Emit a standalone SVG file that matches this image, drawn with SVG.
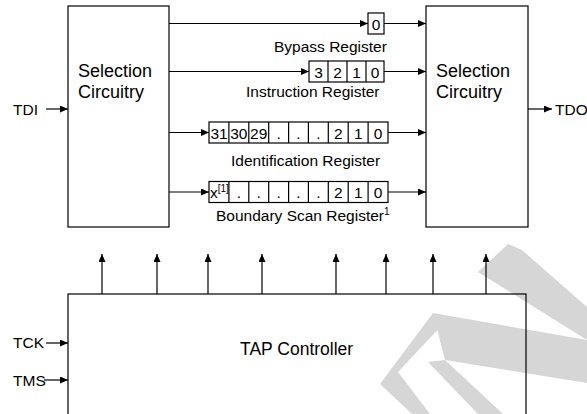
<svg xmlns="http://www.w3.org/2000/svg" width="587" height="414" viewBox="0 0 587 414">
<style>
  text { font-family: "Liberation Sans", Arial, sans-serif; fill: #000; }
  .big { font-size: 18px; }
  .lbl { font-size: 15.5px; }
  .cell { font-size: 15.5px; text-anchor: middle; }
  .box { fill: none; stroke: #000; stroke-width: 1.2; }
  .ln { fill: none; stroke: #000; stroke-width: 1.2; }
  .wm { fill: #d6d6d6; stroke: none; }
</style>
<defs>
  <marker id="ah" markerUnits="userSpaceOnUse" markerWidth="8" markerHeight="7" refX="8" refY="3.5" orient="auto">
    <path d="M0,0 L8,3.5 L0,7 Z" fill="#000"/>
  </marker>
</defs>
<rect width="587" height="414" fill="#fff"/>
<g id="watermark">
  <polygon class="wm" points="478,272 508,244 522,250 587,307 587,340"/>
  <polygon class="wm" points="433,313 587,340 587,383 445,360"/>
  <polygon class="wm" points="433,313 445,322 398,372 430,414 412,414 380,384"/>
  <polygon class="wm" points="428,362 445,360 503,414 478,414"/>
</g>
<g id="connectors">
  <line class="ln" x1="46" y1="109" x2="68" y2="109" marker-end="url(#ah)"/>
  <line class="ln" x1="169" y1="23.5" x2="368" y2="23.5" marker-end="url(#ah)"/>
  <line class="ln" x1="169" y1="71.5" x2="309" y2="71.5" marker-end="url(#ah)"/>
  <line class="ln" x1="169" y1="132.5" x2="209" y2="132.5" marker-end="url(#ah)"/>
  <line class="ln" x1="169" y1="192" x2="209" y2="192" marker-end="url(#ah)"/>
  <line class="ln" x1="384" y1="23.5" x2="426" y2="23.5" marker-end="url(#ah)"/>
  <line class="ln" x1="384" y1="71.5" x2="426" y2="71.5" marker-end="url(#ah)"/>
  <line class="ln" x1="388" y1="132.5" x2="426" y2="132.5" marker-end="url(#ah)"/>
  <line class="ln" x1="388" y1="192" x2="426" y2="192" marker-end="url(#ah)"/>
  <line class="ln" x1="528" y1="109" x2="552" y2="109" marker-end="url(#ah)"/>
  <line class="ln" x1="46" y1="343" x2="68" y2="343" marker-end="url(#ah)"/>
  <line class="ln" x1="44" y1="380" x2="68" y2="380" marker-end="url(#ah)"/>
  <line class="ln" x1="102" y1="294" x2="102" y2="254" marker-end="url(#ah)"/>
  <line class="ln" x1="157" y1="294" x2="157" y2="254" marker-end="url(#ah)"/>
  <line class="ln" x1="208" y1="294" x2="208" y2="254" marker-end="url(#ah)"/>
  <line class="ln" x1="262" y1="294" x2="262" y2="254" marker-end="url(#ah)"/>
  <line class="ln" x1="336" y1="294" x2="336" y2="254" marker-end="url(#ah)"/>
  <line class="ln" x1="386" y1="294" x2="386" y2="254" marker-end="url(#ah)"/>
  <line class="ln" x1="433" y1="294" x2="433" y2="254" marker-end="url(#ah)"/>
  <line class="ln" x1="486" y1="294" x2="486" y2="254" marker-end="url(#ah)"/>
</g>
<g id="signals">
  <text class="lbl" x="13" y="114.5">TDI</text>
  <text class="lbl" x="555" y="114.5">TDO</text>
  <text class="lbl" x="13" y="348">TCK</text>
  <text class="lbl" x="13" y="385.5">TMS</text>
</g>
<g id="sel-left">
  <rect class="box" x="68" y="6" width="101" height="221"/>
  <text class="big" x="78" y="77">Selection</text>
  <text class="big" x="78" y="98">Circuitry</text>
</g>
<g id="sel-right">
  <rect class="box" x="426" y="6" width="102" height="221"/>
  <text class="big" x="436" y="77">Selection</text>
  <text class="big" x="436" y="98">Circuitry</text>
</g>
<g id="tap">
  <rect class="box" x="68" y="294" width="458" height="130"/>
  <text class="big" x="240" y="355" style="font-size:17.5px">TAP Controller</text>
</g>
<g id="bypass">
  <rect class="box" x="368" y="13" width="16" height="21"/>
  <text class="cell" x="376" y="29.5">0</text>
  <text class="lbl" x="274" y="52">Bypass Register</text>
</g>
<g id="instruction">
  <rect class="box" x="309" y="61" width="75" height="21"/>
  <path class="ln" d="M328,61V82M347,61V82M366,61V82"/>
  <text class="cell" x="318.5" y="77.5">3</text>
  <text class="cell" x="337.5" y="77.5">2</text>
  <text class="cell" x="356.5" y="77.5">1</text>
  <text class="cell" x="375" y="77.5">0</text>
  <text class="lbl" x="246" y="97">Instruction Register</text>
</g>
<g id="identification">
  <rect class="box" x="209" y="122" width="179" height="21"/>
  <path class="ln" d="M228.9,122V143M248.8,122V143M268.7,122V143M288.6,122V143M308.4,122V143M328.3,122V143M348.2,122V143M368.1,122V143"/>
  <text class="cell" x="219" y="138.5">31</text>
  <text class="cell" x="238.8" y="138.5">30</text>
  <text class="cell" x="258.7" y="138.5">29</text>
  <text class="cell" x="278.6" y="138.5">.</text>
  <text class="cell" x="298.5" y="138.5">.</text>
  <text class="cell" x="318.4" y="138.5">.</text>
  <text class="cell" x="338.3" y="138.5">2</text>
  <text class="cell" x="358.2" y="138.5">1</text>
  <text class="cell" x="378" y="138.5">0</text>
  <text class="lbl" x="231" y="165.5">Identification Register</text>
</g>
<g id="boundary">
  <rect class="box" x="209" y="181.5" width="179" height="21"/>
  <path class="ln" d="M228.9,181.5V202.5M248.8,181.5V202.5M268.7,181.5V202.5M288.6,181.5V202.5M308.4,181.5V202.5M328.3,181.5V202.5M348.2,181.5V202.5M368.1,181.5V202.5"/>
  <text class="lbl" x="210" y="198">x<tspan font-size="10" dy="-6">[1]</tspan></text>
  <text class="cell" x="238.8" y="198">.</text>
  <text class="cell" x="258.7" y="198">.</text>
  <text class="cell" x="278.6" y="198">.</text>
  <text class="cell" x="298.5" y="198">.</text>
  <text class="cell" x="318.4" y="198">.</text>
  <text class="cell" x="338.3" y="198">2</text>
  <text class="cell" x="358.2" y="198">1</text>
  <text class="cell" x="378" y="198">0</text>
  <text class="lbl" x="216" y="221">Boundary Scan Register<tspan font-size="10" dy="-6">1</tspan></text>
</g>
</svg>
